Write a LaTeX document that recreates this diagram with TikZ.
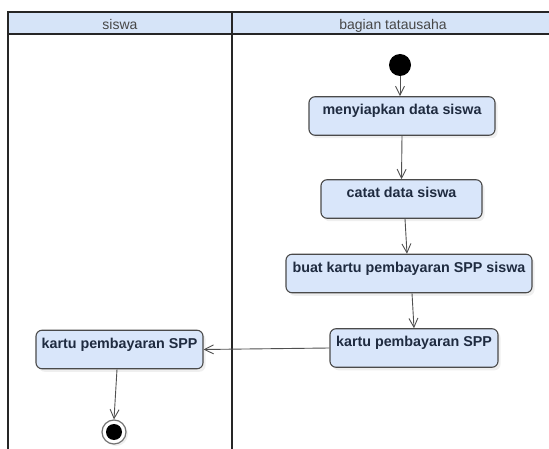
\documentclass[tikz,border=0pt]{standalone}
\usepackage{fontspec}
\setmainfont{Liberation Sans}
\usetikzlibrary{arrows.meta,shadows}
\definecolor{lanefill}{HTML}{D6E4F8}
\definecolor{actfill}{HTML}{D9E6FA}
\definecolor{actline}{HTML}{4A4A4A}
\definecolor{acttext}{HTML}{1F2B40}
\definecolor{flowline}{HTML}{505050}
\tikzset{
  act/.style={draw=actline, fill=actfill, line width=1.1pt, rounded corners=6pt,
    text=acttext, font=\fontsize{14.3}{17}\selectfont\bfseries,
    inner xsep=2pt, inner ysep=2.5pt, text height=15.5pt, text depth=18pt,
    drop shadow={shadow xshift=2.5pt, shadow yshift=-3pt, opacity=0.12}},
  flow/.style={draw=flowline, line width=0.9pt,
    -{Straight Barb[length=9pt, width=9pt, line width=0.9pt]}},
  lane/.style={draw=black!85, line width=1.5pt},
  lanetitle/.style={text=black!72, font=\fontsize{14}{16}\selectfont, anchor=base, inner sep=0pt}
}
\begin{document}
\begin{tikzpicture}[x=1pt, y=-1pt]
\useasboundingbox (0,0) rectangle (549,449);
\fill[white] (0,0) rectangle (549,449);

% swimlane frame with header row
\fill[lanefill] (8,12) rectangle (552,34);
\draw[lane] (552,12) -- (8,12) -- (8,452);
\draw[lane] (8,34) -- (552,34);
\draw[lane] (232,12) -- (232,452);
\node[lanetitle] (lane1) at (120,30) {siswa};
\node[lanetitle] (lane2) at (393,30) {bagian tatausaha};

% start and end states
\node[circle, fill=black, minimum size=22pt, inner sep=0pt] (start) at (400,65) {};
\node[circle, draw=black!55, fill=white, line width=1.2pt, minimum size=24pt, inner sep=0pt,
  drop shadow={shadow xshift=2pt, shadow yshift=-2pt, opacity=0.12}] (end) at (114,432) {};
\node[circle, fill=black, minimum size=16pt, inner sep=0pt] (endcore) at (end.center) {};

% activities
\node[act, minimum width=186pt] (a1) at (402,116) {menyiapkan data siswa};
\node[act, minimum width=161pt] (a2) at (401.5,199) {catat data siswa};
\node[act, minimum width=246pt] (a3) at (409,273.5) {buat kartu pembayaran SPP siswa};
\node[act, minimum width=168pt] (a4) at (414,348) {kartu pembayaran SPP};
\node[act, minimum width=167pt] (s1) at (119.5,349.5) {kartu pembayaran SPP};

% control flow
\draw[flow] (start) -- (start |- a1.north);
\draw[flow] (a1.south) -- (a2.north);
\draw[flow] ([xshift=3.5pt]a2.south) -- ([xshift=-2pt]a3.north);
\draw[flow] ([xshift=3pt]a3.south) -- (a4.north);
\draw[flow] (a4.west) -- (s1.east);
\draw[flow] ([xshift=-2.5pt]s1.south) -- (end.north);
\end{tikzpicture}
\end{document}
